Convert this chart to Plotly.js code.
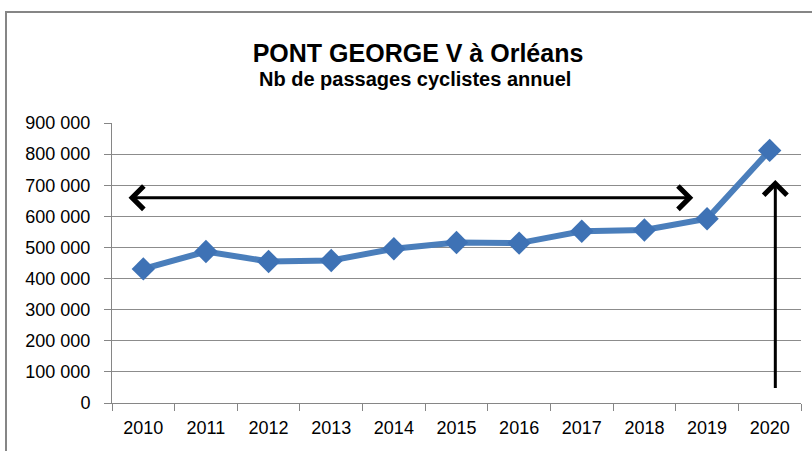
<!DOCTYPE html>
<html>
<head>
<meta charset="utf-8">
<script src="https://cdn.plot.ly/plotly-3.0.1.min.js"></script>
<style>html,body{margin:0;padding:0;background:#fff;}#chart{width:812px;height:451px;}</style>
</head>
<body>
<div id="chart"></div>
<script>
const years = ['2010','2011','2012','2013','2014','2015','2016','2017','2018','2019','2020'];
const passages = [431000, 487000, 455000, 458000, 496000, 516000, 514000, 552000, 556000, 592000, 812000];
const yTicks = [0,100000,200000,300000,400000,500000,600000,700000,800000,900000];
const yTickLabels = ['0','100 000','200 000','300 000','400 000','500 000','600 000','700 000','800 000','900 000'];
// arrows (category index, value)
const hArrow = {x0: -0.26, x1: 8.78, y: 660000};
const vArrow = {x: 10.09, y0: 43000, y1: 717000};

const trace = {
  x: years, y: passages, type: 'scatter', mode: 'lines+markers',
  line: {color: '#4a7ebb', width: 6},
  marker: {symbol: 'diamond', size: 18, color: '#3e72b5', line: {width: 0}},
  hoverinfo: 'skip'
};

const layout = {
  width: 812, height: 451,
  margin: {l: 112, r: 11, t: 123, b: 48},
  paper_bgcolor: '#fff', plot_bgcolor: '#fff',
  showlegend: false,
  separators: ', ',
  font: {family: 'Liberation Sans, Arial, sans-serif', color: '#000'},
  title: {
    text: '<b>PONT GEORGE V à Orléans</b>',
    font: {family: 'Liberation Sans, Arial, sans-serif', size: 25, color: '#000'},
    x: 418/812, xref: 'container', xanchor: 'center',
    y: 1 - 53/451, yref: 'container', yanchor: 'middle'
  },
  xaxis: {
    type: 'category',
    range: [-0.5, 10.5],
    showgrid: false, zeroline: false,
    showline: true, linecolor: '#868686', linewidth: 1,
    ticks: 'outside', ticklen: 7, tickcolor: '#868686', tickwidth: 1,
    tickson: 'boundaries',
    tickfont: {size: 18, color: '#000'},
    ticklabelstandoff: 8
  },
  yaxis: {
    range: [0, 900000],
    tickvals: yTicks, ticktext: yTickLabels,
    showgrid: true, gridcolor: '#8c8c8c', gridwidth: 1,
    zeroline: false,
    showline: true, linecolor: '#868686', linewidth: 1,
    ticks: 'outside', ticklen: 7, tickcolor: '#868686', tickwidth: 1,
    tickfont: {size: 18, color: '#000'},
    ticklabelstandoff: 10
  },
  shapes: [{
    type: 'rect', xref: 'paper', yref: 'paper',
    x0: (6 - 112)/689, x1: (900 - 112)/689,
    y0: -0.3, y1: 1 + (123 - 12)/280,
    line: {color: '#868686', width: 2}, fillcolor: 'rgba(0,0,0,0)', layer: 'below'
  }],
  annotations: [
    {
      text: '<b>Nb de passages cyclistes annuel</b>',
      xref: 'paper', yref: 'paper',
      x: (415 - 112)/689, y: 1 + (123 - 79)/280,
      xanchor: 'center', yanchor: 'middle', showarrow: false,
      font: {family: 'Liberation Sans, Arial, sans-serif', size: 20, color: '#000'}
    },
    {
      x: hArrow.x1, y: hArrow.y, ax: hArrow.x0, ay: hArrow.y,
      xref: 'x', yref: 'y', axref: 'x', ayref: 'y',
      text: '', showarrow: true, arrowhead: 4, startarrowhead: 4, arrowside: 'end+start',
      arrowsize: 1.5, startarrowsize: 1.5, arrowwidth: 3, arrowcolor: '#000'
    },
    {
      x: vArrow.x, y: vArrow.y1, ax: vArrow.x, ay: vArrow.y0,
      xref: 'x', yref: 'y', axref: 'x', ayref: 'y',
      text: '', showarrow: true, arrowhead: 4, arrowside: 'end',
      arrowsize: 1.5, arrowwidth: 3, arrowcolor: '#000'
    }
  ]
};

Plotly.newPlot('chart', [trace], layout, {staticPlot: true, displayModeBar: false});
</script>
</body>
</html>
